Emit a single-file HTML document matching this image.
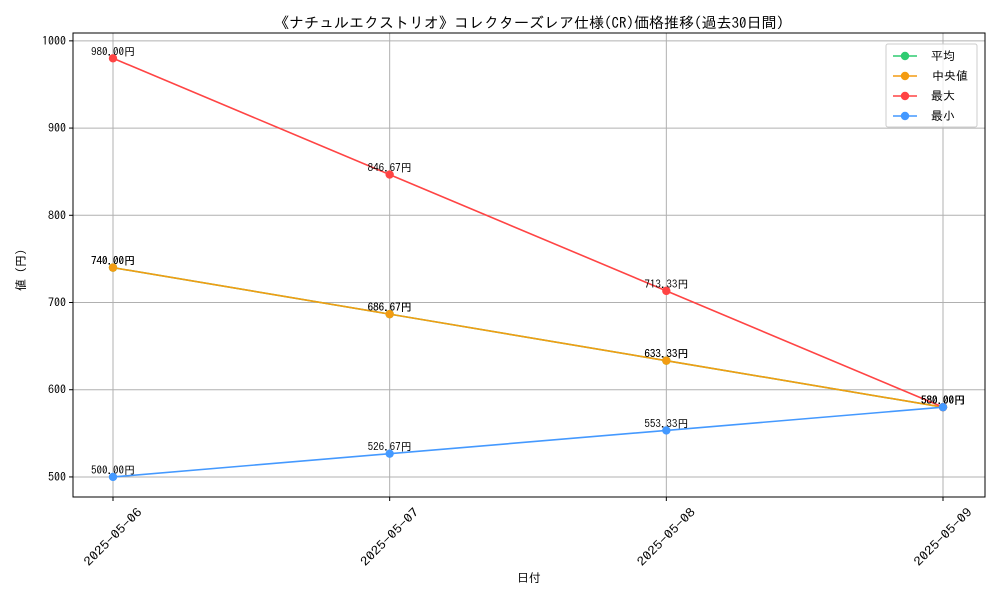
<!DOCTYPE html>
<html><head><meta charset="utf-8"><style>
body{margin:0;background:#fff;}
svg text{font-family:"IPAGothic","Liberation Sans","Noto Sans CJK JP",sans-serif;}
</style></head><body>
<svg id="chart" width="1000" height="600" xmlns="http://www.w3.org/2000/svg">
<rect width="1000" height="600" fill="#fff"/>
<text x="529" y="28" font-size="15" text-anchor="middle">《ナチュルエクストリオ》コレクターズレア仕様(CR)価格推移(過去30日間)</text>
<g id="grid"></g>
<g id="axes"></g>
<g id="series"></g>
<rect x="73" y="33" width="912" height="464" fill="none" stroke="#000" stroke-width="1"/>
<text x="529" y="582" font-size="12" text-anchor="middle">日付</text>
<text transform="translate(25,270) rotate(-90)" font-size="12" text-anchor="middle">値 (円)</text>
<g id="legend">
<rect x="886" y="44" width="91" height="83" fill="#fff" fill-opacity="0.8" stroke="#ccc" rx="2"/>
</g>
</svg>
<script>
const categories=["2025-05-06","2025-05-07","2025-05-08","2025-05-09"];
const avgValues=[740,686.67,633.33,580];
const medianValues=[740,686.67,633.33,580];
const maxValues=[980,846.67,713.33,580];
const minValues=[500,526.67,553.33,580];
const yTicks=[500,600,700,800,900,1000];
const seriesNames=["平均","中央値","最大","最小"];
const seriesColors=["#2ecc71","#f39c12","#ff4444","#4499ff"];
const NS="http://www.w3.org/2000/svg";
const L=73,R=985,T=33,B=497,yMin=477,yMax=1009;
function xs(i){return 113+i*(943-113)/(categories.length-1);}
function ys(v){return B-(v-yMin)/(yMax-yMin)*(B-T);}
function mk(t,a,p){const e=document.createElementNS(NS,t);for(const k in a)e.setAttribute(k,a[k]);p.appendChild(e);return e;}
const grid=document.getElementById('grid'),axes=document.getElementById('axes'),ser=document.getElementById('series'),leg=document.getElementById('legend');
yTicks.forEach(v=>{
 const y=ys(v);
 const g=mk('line',{x1:L,x2:R,y1:y,y2:y,stroke:'#b0b0b0','stroke-width':1},grid);
 
 
 mk('line',{x1:L-4,x2:L,y1:y,y2:y,stroke:'#000'},axes);
 const t=mk('text',{x:L-7,y:y+4,'font-size':12,'text-anchor':'end'},axes);t.textContent=v;
 
 
});
categories.forEach((c,i)=>{
 const x=xs(i);
 const g=mk('line',{x1:x,x2:x,y1:T,y2:B,stroke:'#b0b0b0','stroke-width':1},grid);
 
 
 mk('line',{x1:x,x2:x,y1:B,y2:B+4,stroke:'#000'},axes);
 const cy=B+40;
 const t=mk('text',{x:x,y:cy+4,'font-size':12,'text-anchor':'middle',textLength:76,lengthAdjust:'spacingAndGlyphs',transform:`rotate(-45 ${x} ${cy})`},axes);t.textContent=c;
 
 
});
const all=[avgValues,medianValues,maxValues,minValues];
all.forEach((vals,s)=>{
 const col=seriesColors[s];
 const g=mk('g',{},ser);
 
 
 const pl=mk('polyline',{points:vals.map((v,i)=>xs(i)+','+ys(v)).join(' '),fill:'none',stroke:col,'stroke-width':1.6},g);
 
 
 vals.forEach((v,i)=>{
  const c=mk('circle',{cx:xs(i),cy:ys(v),r:4.2,fill:col},g);
  
  
  const t=mk('text',{x:xs(i),y:ys(v)-3,'font-size':11,'text-anchor':'middle'},g);
  t.textContent=v.toFixed(2)+'円';
  
  
 });
});
seriesNames.forEach((n,k)=>{
 const y=56+k*20;
 const e=mk('g',{},leg);
 
 
 mk('line',{x1:893,x2:917,y1:y,y2:y,stroke:seriesColors[k],'stroke-width':1.6},e);
 mk('circle',{cx:905,cy:y,r:4.2,fill:seriesColors[k]},e);
 const t=mk('text',{x:(k==1?932:931),y:y+4,'font-size':12},e);t.textContent=(k==1?' ':'')+n;
});
</script>
</body></html>
